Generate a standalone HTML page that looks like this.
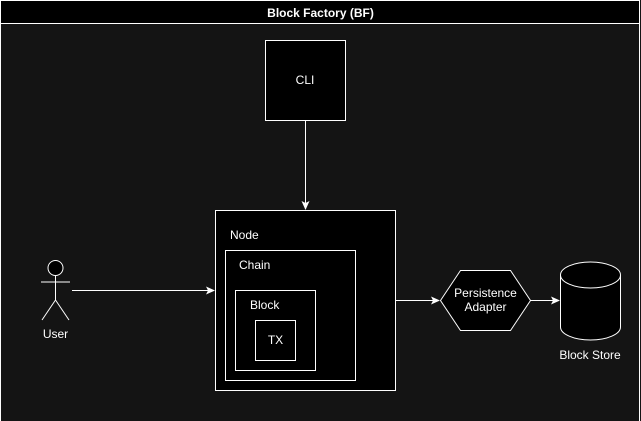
<!DOCTYPE html>
<html><head><style>html,body{margin:0;padding:0;background:#141414;overflow:hidden}svg{display:block}</style></head><body>
<svg width="641" height="421" xmlns="http://www.w3.org/2000/svg" font-family="Liberation Sans, Arial, sans-serif">
<defs><marker id="a" markerWidth="10" markerHeight="10" refX="8" refY="4" orient="auto" markerUnits="userSpaceOnUse"><path d="M0,0 L9,4 L0,8 L2,4 Z" fill="#fff"/></marker></defs>
<rect x="0.5" y="0.5" width="639" height="425" fill="#141414" stroke="#fff"/>
<rect x="0.5" y="0.5" width="639" height="23" fill="#000" stroke="#fff"/>
<text x="320.5" y="17" fill="#fff" font-size="12" font-weight="bold" text-anchor="middle">Block Factory (BF)</text>
<rect x="265.5" y="40.5" width="80" height="80" fill="#000" stroke="#fff"/>
<text x="305" y="84" fill="#fff" font-size="12" text-anchor="middle">CLI</text>
<line x1="305.5" y1="120" x2="305.5" y2="209" stroke="#fff" marker-end="url(#a)"/>
<rect x="215.5" y="210.5" width="180" height="180" fill="#000" stroke="#fff"/>
<text x="230" y="239" fill="#fff" font-size="12">Node</text>
<rect x="225.5" y="250.5" width="130" height="130" fill="#000" stroke="#fff"/>
<text x="239" y="269" fill="#fff" font-size="12">Chain</text>
<rect x="235.5" y="290.5" width="80" height="80" fill="#000" stroke="#fff"/>
<text x="250" y="309" fill="#fff" font-size="12">Block</text>
<rect x="255.5" y="320.5" width="40" height="40" fill="#000" stroke="#fff"/>
<text x="275.5" y="344" fill="#fff" font-size="12" text-anchor="middle">TX</text>
<g stroke="#fff" fill="none">
<circle cx="55.5" cy="268" r="7.5" fill="#000"/>
<line x1="55.5" y1="275.5" x2="55.5" y2="300"/>
<line x1="41" y1="282" x2="70" y2="282"/>
<line x1="55.5" y1="300" x2="42" y2="320"/>
<line x1="55.5" y1="300" x2="69" y2="320"/>
</g>
<text x="55.5" y="338" fill="#fff" font-size="12" text-anchor="middle">User</text>
<line x1="72" y1="290.5" x2="214" y2="290.5" stroke="#fff" marker-end="url(#a)"/>
<line x1="395" y1="300.5" x2="439" y2="300.5" stroke="#fff" marker-end="url(#a)"/>
<path d="M440.5,300.5 L460.5,270.5 L510.5,270.5 L530.5,300.5 L510.5,330.5 L460.5,330.5 Z" fill="#000" stroke="#fff"/>
<text x="485.5" y="297" fill="#fff" font-size="12" text-anchor="middle">Persistence</text>
<text x="485.5" y="311" fill="#fff" font-size="12" text-anchor="middle">Adapter</text>
<line x1="530" y1="300.5" x2="559" y2="300.5" stroke="#fff" marker-end="url(#a)"/>
<path d="M560.5,275 L560.5,327 A30,13 0 0 0 620.5,327 L620.5,275 A30,13 0 0 0 560.5,275 Z" fill="#000" stroke="#fff"/>
<path d="M560.5,275 A30,13 0 0 0 620.5,275" fill="none" stroke="#fff"/>
<text x="590" y="359" fill="#fff" font-size="12" text-anchor="middle">Block Store</text>
</svg>
</body></html>
